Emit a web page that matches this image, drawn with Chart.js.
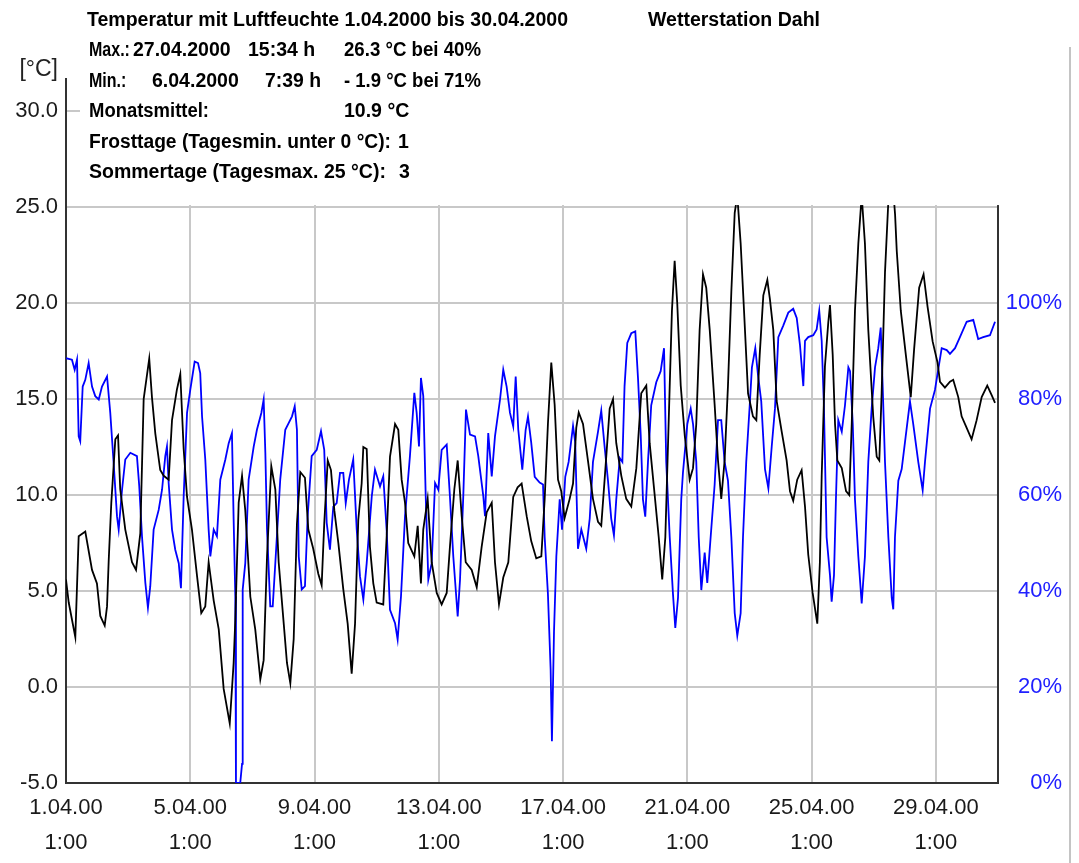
<!DOCTYPE html>
<html>
<head>
<meta charset="utf-8">
<script src="https://cdn.jsdelivr.net/npm/chart.js@4/dist/chart.umd.min.js"></script>
<style>
  html, body { margin: 0; padding: 0; background: #fff; }
  #wrap { width: 1079px; height: 863px; position: relative; }
</style>
</head>
<body>
<div id="wrap"><canvas id="myChart"></canvas></div>
<script>
// hours since 1.04.2000 1:00
const tempHours = [
  0,2.1,7.2,9.8,14.9,20.1,23.9,26.5,29.9,31.7,
  33.0,35.0,38.1,40.2,41.9,45.8,51.0,54.1,57.4,60.0,
  64.3,66.4,69.0,72.8,75.5,79.3,81.9,85.7,88.3,90.9,
  93.5,97.3,101.2,104.5,107.6,110.2,114.1,118.0,121.8,126.5,
  129.5,130.8,133.4,136.0,138.5,142.4,146.2,150.1,152.7,155.3,
  158.6,161.7,164.3,168.2,170.7,173.3,175.9,178.4,181.0,184.6,
  187.2,191.0,194.9,197.5,199.5,202.2,204.7,207.3,210.4,214.2,
  217.6,220.7,223.3,225.8,228.4,229.7,232.3,234.8,237.4,240.0,
  245.1,247.7,250.3,254.2,256.7,259.3,261.9,264.4,269.1,271.7,
  274.2,276.0,279.4,282.5,286.4,290.2,294.1,296.6,300.0,302.6,
  305.7,308.8,313.4,317.3,321.1,325.0,328.9,331.4,334.5,337.8,
  341.7,345.5,348.9,352.0,355.9,359.4,363.3,367.2,369.8,372.3,
  374.9,377.5,380.1,382.6,385.2,389.1,391.7,394.2,396.1,399.4,
  403.2,407.1,411.0,413.5,416.1,420.0,422.6,425.1,429.0,432.8,
  436.7,440.6,444.4,448.3,450.9,454.2,457.9,460.6,463.0,466.4,
  468.1,470.2,472.2,474.9,478.0,481.8,484.4,486.9,489.5,492.1,
  494.6,497.3,501.1,503.7,506.2,508.8,511.4,514.0,516.6,518.6,
  521.2,523.8,526.9,530.7,533.3,535.9,538.7,541.8,543.8,546.4,
  549.0,552.9,556.7,559.3,561.8,564.9,568.3,570.9,573.4,576.8,
  580.4,582.4,583.8,586.3,588.9,590.2,592.3,594.1,595.9,599.3,
  602.6,605.1,607.0,609.5,612.1,614.7,617.2,619.8,623.6,626.3,
  628.3,630.1,632.7,635.5,638.6,640.5,641.8,644.9,648.8,652.6,
  655.2,659.1,662.5,665.6,669.5,673.3,675.2,679.0,682.9,685.4,
  689.3,691.9,695.8,699.6,703.5,707.4,711.7,715.1,717.7
];
// °C
const tempValues = [
  5.6,4.4,2.6,7.85,8.1,6.1,5.4,3.7,3.2,4.2,
  6.6,9.6,12.9,13.1,10.3,8.2,6.5,6.1,8.0,15.0,
  17.1,15.1,13.2,11.3,11.0,10.8,13.9,15.5,16.3,12.4,
  9.9,8.2,5.8,3.85,4.2,6.5,4.5,3.0,-0.1,-1.9,
  1.25,3.5,9.6,11.0,9.2,4.7,3.0,0.4,1.4,6.8,
  11.5,10.3,6.5,3.3,1.25,0.2,2.5,8.5,11.2,10.9,
  8.2,7.2,5.9,5.3,8.5,11.8,11.3,9.2,7.5,5.1,
  3.3,0.7,3.3,8.7,10.6,12.5,12.4,7.3,5.4,4.4,
  4.3,7.8,12.0,13.7,13.4,10.8,9.6,7.5,6.8,8.4,
  5.4,8.2,9.8,6.5,4.9,4.3,4.9,7.3,10.3,11.8,
  8.9,6.5,6.1,5.2,7.3,9.1,9.6,6.5,4.3,5.7,
  6.5,9.9,10.4,10.6,8.9,7.6,6.7,6.8,9.8,13.7,
  16.9,14.7,10.8,10.2,8.8,9.8,10.6,13.5,14.3,13.7,
  11.8,9.8,8.6,8.4,10.8,14.5,15.0,12.7,11.0,9.8,
  9.4,11.4,15.3,15.7,12.7,10.4,7.8,5.6,7.8,15.7,
  19.6,22.2,20.0,15.7,13.1,10.8,11.4,13.7,18.6,21.5,
  20.8,18.6,14.7,11.8,9.8,11.8,15.7,20.6,24.7,25.6,
  23.1,19.6,15.3,14.1,13.9,17.3,20.4,21.2,20.2,18.6,
  14.9,13.3,11.8,10.2,9.7,10.8,11.3,9.4,6.9,4.9,
  3.3,6.5,11.0,16.7,19.0,19.9,17.3,13.7,11.8,11.4,
  10.2,10.0,13.7,19.6,23.1,25.6,23.1,18.6,14.1,12.0,
  11.8,15.3,21.6,25.6,26.3,24.6,22.7,19.6,17.3,15.1,
  17.6,20.8,21.5,19.8,18.0,16.9,15.9,15.6,15.9,16.0,
  15.1,14.1,13.5,12.9,13.9,15.1,15.7,15.2,14.8
];
const humHours = [
  0,4.6,6.7,8.5,9.8,11.0,12.9,14.9,17.5,20.1,
  22.6,25.3,27.8,31.7,34.2,36.8,39.4,40.7,43.3,45.8,
  49.7,54.8,56.6,58.7,61.3,63.3,65.1,67.7,71.6,74.2,
  76.7,78.0,79.3,81.9,84.4,87.1,88.8,90.9,93.5,96.0,
  99.4,102.0,103.7,105.1,107.6,110.2,111.5,114.1,116.6,119.2,
  123.1,125.7,128.2,129.5,130.8,131.3,134.6,136.0,136.5,138.5,
  141.1,145.0,147.5,150.9,152.7,154.0,155.3,157.8,159.7,161.7,
  165.5,169.4,172.0,174.6,176.7,178.4,179.8,182.1,184.6,186.7,
  189.8,193.7,197.0,199.5,201.4,203.9,206.5,209.1,211.7,214.2,
  216.1,218.6,221.9,224.6,227.1,229.7,232.3,236.2,238.7,242.6,
  245.1,247.7,250.3,254.2,256.2,258.8,261.9,265.7,269.1,270.9,
  272.7,274.2,276.0,277.9,279.9,282.5,285.1,287.6,290.2,294.1,
  296.6,299.2,302.6,304.4,306.9,309.0,312.1,316.0,318.5,322.4,
  323.7,326.2,328.9,331.4,335.3,337.8,340.4,343.0,345.5,347.4,
  349.4,352.5,355.1,356.9,359.4,362.1,365.9,368.5,369.8,372.3,
  374.4,375.4,377.0,378.8,381.4,383.2,385.7,388.3,391.7,393.4,
  395.5,398.1,401.9,404.6,407.1,411.0,413.5,416.1,418.7,421.2,
  423.3,425.1,427.8,429.8,431.5,433.6,436.7,439.8,441.9,444.0,
  445.7,447.5,449.6,452.1,456.0,459.4,462.0,463.7,466.4,468.9,
  470.7,472.8,475.3,476.6,480.0,482.6,484.4,486.9,488.8,490.8,
  493.4,495.4,498.0,501.1,503.7,506.2,508.8,511.4,514.0,516.6,
  518.6,521.2,523.0,525.5,528.2,529.9,532.5,534.6,537.1,540.0,
  542.6,545.2,547.7,550.3,554.1,558.0,561.8,564.5,567.0,569.6,
  570.9,573.4,577.3,579.9,581.9,583.8,585.5,587.6,590.2,591.5,
  593.3,594.8,596.6,599.3,601.8,604.4,605.7,607.8,609.5,612.1,
  614.7,617.2,619.8,622.4,625.0,627.5,629.4,630.9,632.7,635.3,
  637.9,639.1,640.4,643.0,645.6,648.1,652.0,654.5,658.4,661.8,
  663.6,667.5,671.3,676.5,680.4,682.9,686.8,690.6,695.8,700.9,
  704.7,708.6,713.8,717.7
];
// % rel. humidity
const humValues = [
  88.5,88.2,86.1,88.2,72.2,71.2,82.6,84.0,87.5,82.6,
  80.6,79.9,82.6,84.7,77.1,66.7,55.6,52.8,61.1,67.4,
  68.8,68.1,61.8,51.4,41.7,36.5,41.0,52.8,56.9,61.1,
  68.1,70.1,62.5,52.8,48.6,45.8,40.6,59.7,77.1,81.9,
  87.8,87.5,85.4,76.4,67.4,52.8,47.2,52.8,51.4,63.2,
  67.4,70.8,72.9,54.9,38.9,0,0,4,40.3,45.8,
  63.2,70.1,73.6,77.1,79.9,68.8,52.8,36.8,36.8,45.8,
  63.2,73.6,75.0,76.4,78.5,73.6,47.2,40.3,41.0,55.6,
  68.1,69.4,73.3,69.4,54.2,48.6,57.6,58.3,64.6,64.6,
  58.3,63.2,67.4,52.8,43.1,38.2,45.8,59.7,65.3,61.8,
  63.9,52.8,36.1,33.3,29.9,38.9,55.6,68.1,81.3,77.1,
  70.1,84.4,80.6,59.7,42.4,45.8,62.5,61.1,69.4,70.5,
  59.7,47.2,34.7,42.4,59.7,77.8,72.6,72.2,68.1,59.7,
  55.6,72.9,63.9,72.2,79.9,86.1,82.6,77.1,74.3,84.7,
  73.6,65.3,73.6,76.4,70.9,63.8,62.6,62.2,51.2,39.4,
  23.6,8.7,31.5,47.2,59.1,52.8,63.8,66.9,74.4,70.9,
  48.8,52.8,48.8,55.1,66.9,73.2,77.6,70.1,63.0,55.1,
  51.6,59.1,67.7,66.9,82.7,91.7,93.7,94.1,84.3,72.4,
  59.1,55.5,66.9,78.7,83.5,85.8,90.6,66.9,51.2,39.4,
  32.3,38.6,59.1,64.6,74.8,78.0,74.8,66.9,51.2,40.2,
  48.0,41.7,51.2,62.2,75.6,75.6,66.9,63.0,51.2,35.4,
  30.7,35.4,51.2,66.9,78.7,86.6,90.6,85.0,79.5,65.4,
  61.4,70.1,78.0,92.9,95.3,98.0,98.8,96.9,91.3,82.7,
  92.1,92.9,93.3,94.5,98.4,92.1,78.7,51.2,43.3,37.8,
  43.3,59.1,75.6,73.2,78.7,86.6,85.8,74.8,59.1,47.2,
  37.4,47.2,66.9,78.0,86.6,90.6,94.9,82.7,66.9,51.2,
  38.6,36.2,51.2,63.0,65.4,70.9,79.5,74.8,66.9,61.0,
  66.9,78.0,81.9,90.6,90.2,89.4,90.6,92.9,96.1,96.5,
  92.5,92.9,93.3,96.1
];

const xTickLabels = ['1.04.00', '5.04.00', '9.04.00', '13.04.00', '17.04.00', '21.04.00', '25.04.00', '29.04.00'];
const xTickTime = '1:00';

// header text block: [x, text, max width in the picture] per line
const headerLines = [
  [[87, 'Temperatur mit Luftfeuchte 1.04.2000 bis 30.04.2000', 481], [648, 'Wetterstation Dahl', 172]],
  [[89, 'Max.:', 40], [133, '27.04.2000', 108], [248, '15:34 h', 72], [344, '26.3 °C bei 40%', 137]],
  [[89, 'Min.:', 36], [152, '6.04.2000', 90], [265, '7:39 h', 56], [344, '- 1.9 °C bei 71%', 137]],
  [[89, 'Monatsmittel:', 120], [344, '10.9 °C', 66]],
  [[89, 'Frosttage (Tagesmin. unter 0 °C):', 302], [398, '1', 12]],
  [[89, 'Sommertage (Tagesmax. 25 °C):', 302], [399, '3', 12]]
];

const FONT = '"Liberation Sans", Arial, sans-serif';
const TEMP_TOP = 31.67;

const frame = {
  id: 'frame',
  afterDatasetsDraw(chart) {
    const { ctx, chartArea, scales } = chart;
    const y25 = scales.y.getPixelForValue(25);
    ctx.save();
    // white text box over the upper part of the plot
    ctx.fillStyle = '#fff';
    ctx.fillRect(chartArea.left + 14, 0, chartArea.right + 3 - chartArea.left - 14, y25 - 2);

    // narrow bold header text, one common squeeze, a bit more where it must fit
    ctx.fillStyle = '#000';
    ctx.textBaseline = 'middle';
    ctx.textAlign = 'left';
    ctx.font = 'bold 20px ' + FONT;
    const first = headerLines[0][0];
    const base = first[2] / ctx.measureText(first[1]).width;
    headerLines.forEach((line, i) => {
      const y = 20 + i * 30.5;
      line.forEach(([x, t, w]) => {
        const sx = Math.max(0.8, Math.min(base, w / ctx.measureText(t).width));
        ctx.save();
        ctx.translate(x, y);
        ctx.scale(sx, 1);
        ctx.fillText(t, 0, 0);
        ctx.restore();
      });
    });

    ctx.font = '23px ' + FONT;
    ctx.fillStyle = '#222';
    ctx.textAlign = 'right';
    ctx.fillText('[°C]', chartArea.left - 8, 70);

    // window frame line on the right
    ctx.strokeStyle = '#c4c4c4';
    ctx.lineWidth = 2;
    ctx.beginPath();
    ctx.moveTo(chart.width - 9, 47);
    ctx.lineTo(chart.width - 9, chart.height);
    ctx.stroke();
    ctx.restore();
  }
};

const data = {
  datasets: [
    {
      label: 'Temperatur',
      data: tempHours.map((h, i) => ({ x: h, y: tempValues[i] })),
      borderColor: '#000',
      borderWidth: 1.8,
      pointRadius: 0,
      tension: 0,
      yAxisID: 'y'
    },
    {
      label: 'Luftfeuchte',
      data: humHours.map((h, i) => ({ x: h, y: humValues[i] })),
      borderColor: '#0000ff',
      borderWidth: 1.8,
      pointRadius: 0,
      tension: 0,
      yAxisID: 'y2'
    }
  ]
};

const config = {
  type: 'line',
  data: data,
  options: {
    responsive: true,
    maintainAspectRatio: false,
    animation: false,
    layout: { padding: { top: 79, left: 0, right: 17, bottom: 0 } },
    plugins: {
      legend: { display: false },
      tooltip: { enabled: false }
    },
    scales: {
      x: {
        type: 'linear',
        min: 0,
        max: 720,
        afterFit: (s) => { s.height = 80; },
        ticks: {
          stepSize: 96,
          includeBounds: false,
          autoSkip: false,
          maxRotation: 0,
          padding: 7,
          color: '#1a1a1a',
          font: { family: FONT, size: 22, lineHeight: 1.6 },
          callback: (v) => {
            const i = Math.round(v / 96);
            return xTickLabels[i] ? [xTickLabels[i], xTickTime] : '';
          }
        },
        grid: { color: '#c8c8c8', lineWidth: 2, drawTicks: false },
        border: { color: '#333', width: 2 }
      },
      y: {
        position: 'left',
        min: -5,
        max: TEMP_TOP,
        afterFit: (s) => { s.width = 66; },
        ticks: {
          stepSize: 5,
          includeBounds: false,
          padding: 8,
          color: '#1a1a1a',
          font: { family: FONT, size: 22 },
          callback: (v) => v.toFixed(1)
        },
        grid: { color: '#c8c8c8', lineWidth: 2, drawTicks: false },
        border: { color: '#333', width: 2 }
      },
      y2: {
        position: 'right',
        min: 0,
        max: (TEMP_TOP + 5) * 4,
        afterFit: (s) => { s.width = 64; },
        ticks: {
          stepSize: 20,
          includeBounds: false,
          crossAlign: 'far',
          padding: 6,
          color: '#2020ff',
          font: { family: FONT, size: 22 },
          callback: (v) => (v <= 100 ? v + '%' : '')
        },
        grid: { display: false, drawTicks: false },
        border: { color: '#333', width: 2 }
      }
    }
  },
  plugins: [frame]
};

const myChart = new Chart(document.getElementById('myChart'), config);
</script>
</body>
</html>
